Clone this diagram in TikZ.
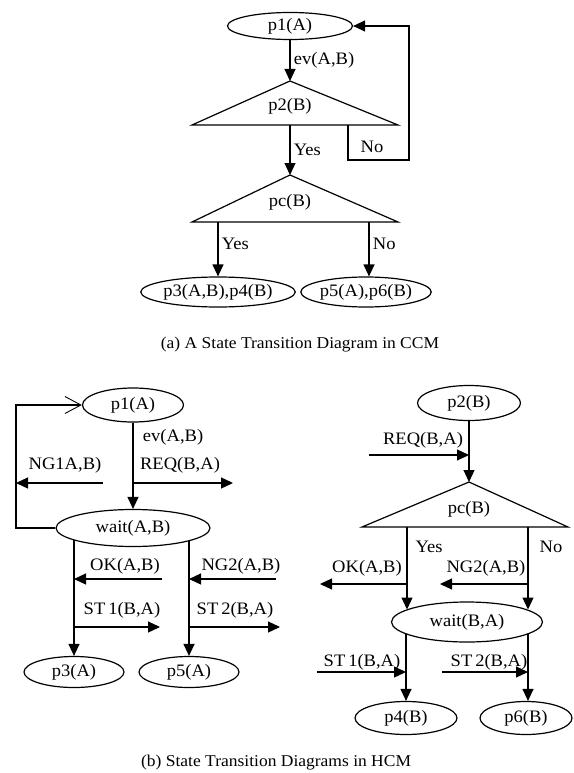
\documentclass[tikz,border=0pt]{standalone}
\usepackage{fontspec}
\setmainfont{Liberation Serif}[FakeStretch=1.06]
\usetikzlibrary{shapes.geometric,arrows.meta}

\begin{document}
\begin{tikzpicture}
    [x=1pt,y=-1pt,line width=1.2pt,
     font=\fontsize{17.5}{20}\selectfont,
     state/.style={ellipse,draw,inner sep=0pt},
     caption/.style={font=\fontsize{16.5}{19}\selectfont},
     >={Triangle[length=12pt,width=11pt]}]
    \useasboundingbox (0,0) rectangle (573,773);
    % (a)
    \node (p1a) at (290,26) [state,minimum width=125pt,minimum height=27pt] {p1(A)};
    \coordinate (p2top) at (290,81);
    \coordinate (p2l) at (192,125);
    \coordinate (p2r) at (398,125);
    \draw (p2top) -- (p2l) -- (p2r) -- cycle;
    \node (p2) at (290,106) {p2(B)};
    \coordinate (p2yes) at (290,125);
    \coordinate (p2no) at (348,125);
    \coordinate (nocorner) at (409,160);
    \coordinate (pctop) at (290,175);
    \coordinate (pcl) at (192,222);
    \coordinate (pcr) at (398,222);
    \draw (pctop) -- (pcl) -- (pcr) -- cycle;
    \node (pc) at (290,202) {pc(B)};
    \coordinate (pcyes) at (218,222);
    \coordinate (pcno) at (369,222);
    \node (p34) at (218,292) [state,minimum width=131pt,minimum height=30pt] {p3(A,B),p4(B)};
    \node (p56) at (366,292) [state,minimum width=125pt,minimum height=30pt] {p5(A),p6(B)};
    \node (nolbl) at (372,147) {No};
    \node (capa) at (300,345) [caption] {(a) A State Transition Diagram in CCM};
    \draw [->] (p1a) to node [right] {ev(A,B)} (p2top);
    \draw [->] (p2yes) to node [right] {Yes} (pctop);
    \draw [->] (p2no) |- (nocorner) |- (p1a);
    \draw [->] (pcyes) to node [right,pos=0.4] {Yes} (p34);
    \draw [->] (pcno) to node [right,pos=0.4] {No} (pcno |- p56.north);
    % (b) left
    \node (p1b) at (133,405) [state,minimum width=101pt,minimum height=34pt] {p1(A)};
    \node (waitA) at (133,528) [state,minimum width=154pt,minimum height=37pt] {wait(A,B)};
    \node (p3) at (74,672) [state,minimum width=100pt,minimum height=31pt] {p3(A)};
    \node (p5) at (189,672) [state,minimum width=100pt,minimum height=31pt] {p5(A)};
    \coordinate (loopb) at (16,528);
    \coordinate (loopt) at (16,405);
    \coordinate (ng1s) at (103,483);
    \coordinate (ng1e) at (16,483);
    \coordinate (reqs) at (133,483);
    \coordinate (reqe) at (233,483);
    \coordinate (okv) at (74,540);
    \coordinate (ngv) at (189,540.5);
    \coordinate (oks) at (162,579);
    \coordinate (ng2s) at (276,579);
    \coordinate (st1e) at (160,627);
    \coordinate (st2e) at (280,627);
    \node (lblev) at (139,437) [anchor=west] {ev(A,B)};
    \node (lblng1) at (65,465) {NG1A,B)};
    \node (lblreq) at (180,465) {REQ(B,A)};
    \node (lblok) at (125,566) {OK(A,B)};
    \node (lblng2) at (241,566) {NG2(A,B)};
    \node (lblst1) at (122,610) {ST\,1(B,A)};
    \node (lblst2) at (235,610) {ST\,2(B,A)};
    \draw [->] (p1b) to (waitA);
    \draw [-{Straight Barb[length=16pt,width=17pt,line width=0.9pt]}] (waitA) -- (loopb) -- (loopt) -- (p1b);
    \draw [->] (ng1s) to (ng1e);
    \draw [->] (reqs) to (reqe);
    \draw [->] (okv) to (p3);
    \draw [->] (ngv) to (p5);
    \draw [->] (oks) to (oks -| okv);
    \draw [->] (ng2s) to (ng2s -| ngv);
    \draw [->] (st1e -| okv) to (st1e);
    \draw [->] (st2e -| ngv) to (st2e);
    % (b) right
    \node (p2B) at (469,403) [state,minimum width=103pt,minimum height=35pt] {p2(B)};
    \coordinate (pcBtop) at (469,482);
    \coordinate (pcBl) at (362,527);
    \coordinate (pcBr) at (568,527);
    \draw (pcBtop) -- (pcBl) -- (pcBr) -- cycle;
    \node (pcB) at (469,509) {pc(B)};
    \node (waitB) at (467,622) [state,minimum width=151pt,minimum height=40pt] {wait(B,A)};
    \node (p4) at (406,718) [state,minimum width=102pt,minimum height=33pt] {p4(B)};
    \node (p6) at (526,718) [state,minimum width=92pt,minimum height=33pt] {p6(B)};
    \coordinate (req2s) at (369,455);
    \coordinate (yesB) at (407,527);
    \coordinate (yesBe) at (407,609.5);
    \coordinate (noB) at (528,527);
    \coordinate (noBe) at (528,609.5);
    \coordinate (ok2e) at (320,584);
    \coordinate (ng2be) at (440,584);
    \coordinate (st1bv) at (406,634);
    \coordinate (st2bv) at (528,634);
    \coordinate (st1bs) at (317,672);
    \coordinate (st2bs) at (442,672);
    \node (lblreq2) at (423,440) {REQ(B,A)};
    \node (lblyes) at (429,547) {Yes};
    \node (lblno) at (551,547) {No};
    \node (lblok2) at (367,568) {OK(A,B)};
    \node (lblng2b) at (486,568) {NG2(A,B)};
    \node (lblst1b) at (362,662) {ST\,1(B,A)};
    \node (lblst2b) at (489,662) {ST\,2(B,A)};
    \node (capb) at (415,763) [caption,anchor=east] {(b) State Transition Diagrams in HCM};
    \draw [->] (p2B) to (pcBtop);
    \draw [->] (req2s) to (req2s -| pcBtop);
    \draw [->] (yesB) to (yesBe);
    \draw [->] (noB) to (noBe);
    \draw [->] (ok2e -| yesB) to (ok2e);
    \draw [->] (ng2be -| noB) to (ng2be);
    \draw [->] (st1bv) to (st1bv |- p4.north);
    \draw [->] (st2bv) to (st2bv |- p6.north);
    \draw [->] (st1bs) to (st1bs -| st1bv);
    \draw [->] (st2bs) to (st2bs -| st2bv);
  \end{tikzpicture}
\end{document}
